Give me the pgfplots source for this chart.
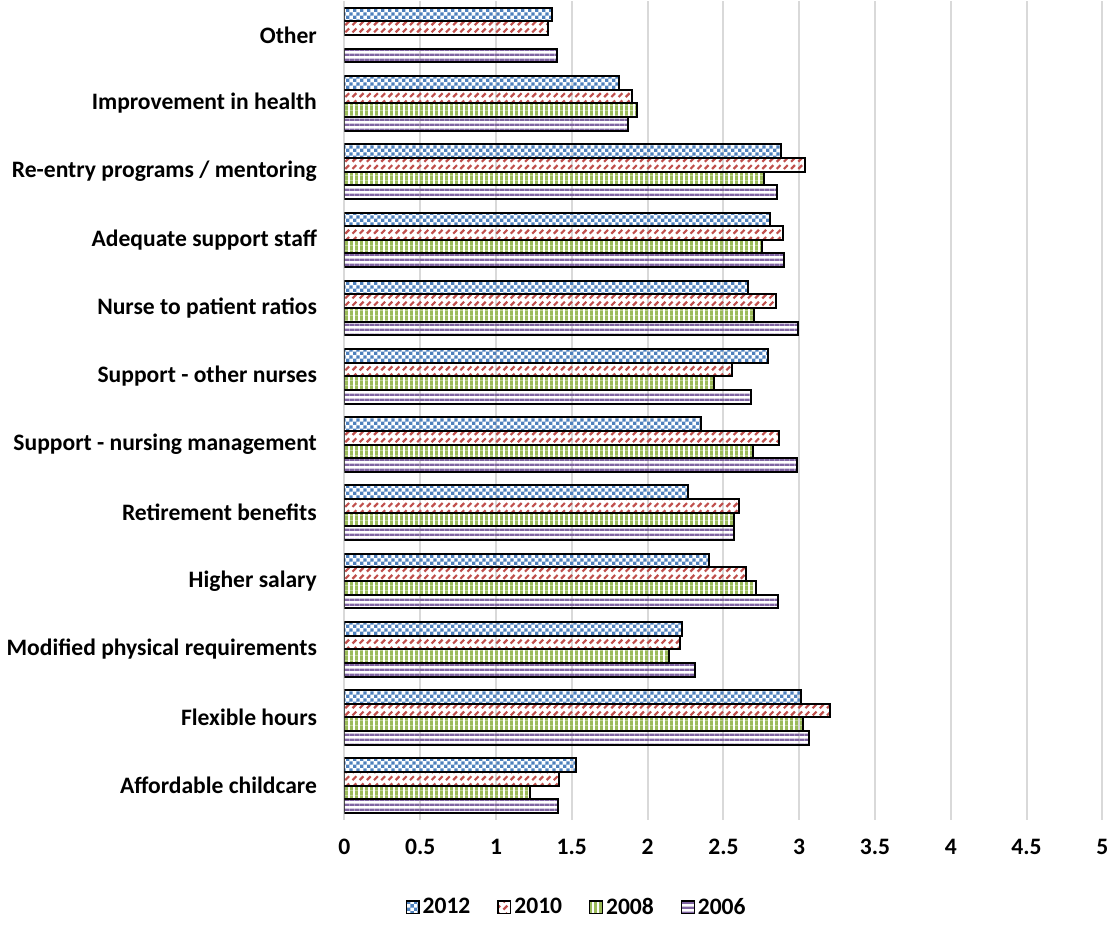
\documentclass[border=0pt]{standalone}
\usepackage{fontspec}
\setmainfont{Carlito}
\usepackage{pgfplots}
\pgfplotsset{compat=1.18}
\usetikzlibrary{patterns}

\definecolor{cblue}{RGB}{79,129,189}
\definecolor{cred}{RGB}{192,80,77}
\definecolor{cgreen}{RGB}{155,187,89}
\definecolor{cpurple}{RGB}{128,100,162}
\definecolor{cgrid}{RGB}{217,217,217}

% small checkerboard
\pgfdeclarepatternformonly{smallcheck}{\pgfpointorigin}{\pgfqpoint{3.4pt}{3.4pt}}{\pgfqpoint{3.4pt}{3.4pt}}{%
  \pgfpathrectangle{\pgfpointorigin}{\pgfqpoint{1.75pt}{1.75pt}}%
  \pgfpathrectangle{\pgfqpoint{1.7pt}{1.7pt}}{\pgfqpoint{1.75pt}{1.75pt}}%
  \pgfusepath{fill}}
% dashed diagonal
\pgfdeclarepatternformonly{dashdiag}{\pgfqpoint{-0.6pt}{-0.6pt}}{\pgfqpoint{4.2pt}{4.2pt}}{\pgfqpoint{3.6pt}{3.6pt}}{%
  \pgfsetlinewidth{1.1pt}%
  \pgfpathmoveto{\pgfqpoint{0.1pt}{0.1pt}}%
  \pgfpathlineto{\pgfqpoint{2pt}{2pt}}%
  \pgfusepath{stroke}}
% vertical stripes
\pgfdeclarepatternformonly{vstripes}{\pgfpointorigin}{\pgfqpoint{2.4pt}{2.4pt}}{\pgfqpoint{2.4pt}{2.4pt}}{%
  \pgfpathrectangle{\pgfpointorigin}{\pgfqpoint{1.45pt}{2.4pt}}%
  \pgfusepath{fill}}
% horizontal stripes
\pgfdeclarepatternformonly{hstripes}{\pgfpointorigin}{\pgfqpoint{2.4pt}{2.6pt}}{\pgfqpoint{2.4pt}{2.6pt}}{%
  \pgfpathrectangle{\pgfpointorigin}{\pgfqpoint{2.4pt}{1.4pt}}%
  \pgfusepath{fill}}

\begin{document}
\begin{tikzpicture}
\begin{axis}[
  scale only axis,
  width=379.5pt,
  height=410pt,
  xbar,
  bar width=0.2,
  xmin=0, xmax=5,
  ymin=-0.5, ymax=11.5,
  xtick={0,0.5,...,5},
  ytick={0,...,11},
  yticklabels={Affordable childcare,Flexible hours,Modified physical requirements,Higher salary,Retirement benefits,Support - nursing management,Support - other nurses,Nurse to patient ratios,Adequate support staff,Re-entry programs / mentoring,Improvement in health,Other},
  xmajorgrids,
  major grid style={draw=cgrid, line width=1pt},
  axis line style={draw=none},
  tick style={draw=none},
  /pgf/number format/assume math mode=true,
  tick label style={font=\fontsize{11.8}{14}\selectfont\bfseries},
  xticklabel style={yshift=-6pt},
  yticklabel style={xshift=-6pt},
  legend style={at={(0.307,-0.107)}, anchor=center, draw=none,
    font=\fontsize{11.8}{14}\selectfont\bfseries,
    /tikz/every even column/.append style={column sep=12pt},
    nodes={inner sep=1.5pt}},
  legend columns=4,
  legend image code/.code={\draw[#1, line width=0.6pt] (0pt,-3.2pt) rectangle (6.4pt,3.2pt);},
]
% 2012
\addplot[bar shift=0.3, draw=black, line width=1pt, pattern=smallcheck, pattern color=cblue]
  coordinates {(1.53,0) (3.015,1) (2.225,2) (2.407,3) (2.264,4) (2.35,5) (2.796,6) (2.66,7) (2.807,8) (2.88,9) (1.81,10) (1.37,11)};
% 2010
\addplot[bar shift=0.1, draw=black, line width=1pt, pattern=dashdiag, pattern color=cred]
  coordinates {(1.414,0) (3.204,1) (2.216,2) (2.649,3) (2.605,4) (2.866,5) (2.554,6) (2.846,7) (2.895,8) (3.04,9) (1.90,10) (1.34,11)};
% 2008
\addplot[bar shift=-0.1, draw=black, line width=1pt, pattern=vstripes, pattern color=cgreen]
  coordinates {(1.223,0) (3.026,1) (2.144,2) (2.715,3) (2.567,4) (2.692,5) (2.438,6) (2.70,7) (2.756,8) (2.765,9) (1.93,10)};
% 2006
\addplot[bar shift=-0.3, draw=black, line width=1pt, pattern=hstripes, pattern color=cpurple]
  coordinates {(1.412,0) (3.064,1) (2.315,2) (2.857,3) (2.572,4) (2.985,5) (2.68,6) (2.993,7) (2.897,8) (2.855,9) (1.87,10) (1.40,11)};
\legend{2012,2010,2008,2006}
\end{axis}
\end{tikzpicture}
\end{document}
